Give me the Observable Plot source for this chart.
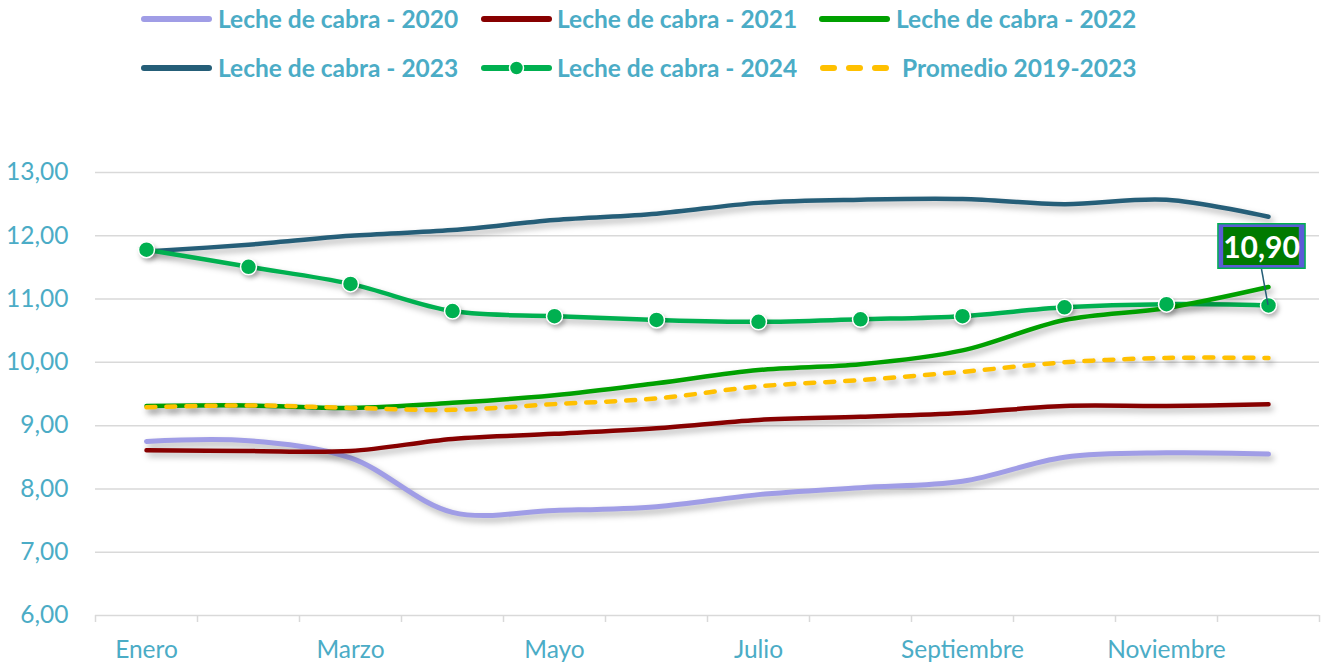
<!DOCTYPE html>
<html><head><meta charset="utf-8">
<script src="https://cdn.jsdelivr.net/npm/d3@7"></script>
<script src="https://cdn.jsdelivr.net/npm/@observablehq/plot@0.6"></script>
<style>
body{margin:0;background:#fff;font-family:Lato,sans-serif;}
#wrap{position:relative;width:1329px;height:663px;overflow:hidden;}
#legend{position:absolute;left:0;top:0;width:1329px;height:100px;}
.item{position:absolute;height:30px;}
.item svg{position:absolute;left:0;top:5px;}
.item span{position:absolute;top:0;line-height:30px;font-weight:700;color:#4BACC6;font-size:24.5px;white-space:nowrap;}
#chart{position:absolute;left:0;top:100px;}
</style></head><body>
<div id="wrap"><div id="legend"></div><div id="chart"></div></div>
<script>
const months = ["Enero","Febrero","Marzo","Abril","Mayo","Junio","Julio","Agosto","Septiembre","Octubre","Noviembre","Diciembre"];
const seriesNames = ["Leche de cabra - 2020","Leche de cabra - 2021","Leche de cabra - 2022","Leche de cabra - 2023","Leche de cabra - 2024","Promedio 2019-2023"];
const seriesColors = ["#A09DE6","#870000","#00A000","#255E78","#00B050","#FFC000"];
const v2020 = [8.75,8.76,8.49,7.63,7.66,7.72,7.91,8.02,8.12,8.50,8.57,8.55];
const v2021 = [8.61,8.60,8.60,8.79,8.87,8.96,9.09,9.14,9.20,9.31,9.31,9.34];
const v2022 = [9.31,9.32,9.28,9.36,9.48,9.67,9.88,9.97,10.19,10.67,10.86,11.19];
const v2023 = [11.75,11.86,12.00,12.09,12.25,12.35,12.52,12.57,12.58,12.50,12.57,12.30];
const v2024 = [11.78,11.51,11.24,10.81,10.73,10.67,10.64,10.68,10.73,10.87,10.92,10.90];
const promedio = [9.29,9.32,9.28,9.25,9.34,9.43,9.62,9.72,9.85,10.00,10.07,10.07];
const yTicks = [6,7,8,9,10,11,12,13];
const xLabelIdx = [0,2,4,6,8,10];
const lastLabel = "10,90";

const allValues = [v2020,v2021,v2022,v2023,v2024,promedio];
const rows = s => allValues[s].map((v,i)=>({i, v, s: seriesNames[s]}));
const fmt = d => d.toFixed(2).replace(".", ",");
const labelColor = "#4BACC6";
const edges = d3.range(-0.5, 12, 1);

// Legend
const legendPos = [
  {x:141, y:19, tx:218}, {x:481, y:19, tx:557}, {x:819, y:19, tx:896},
  {x:141, y:68, tx:218}, {x:481, y:68, tx:557}, {x:819, y:68, tx:902}
];
const legend = document.getElementById("legend");
seriesNames.forEach((name, k) => {
  const p = legendPos[k];
  const it = document.createElement("div");
  it.className = "item";
  it.style.left = p.x + "px";
  it.style.top = (p.y - 15) + "px";
  const c = seriesColors[k];
  let sw;
  if (k === 5) {
    sw = `<svg width="74" height="20"><line x1="4" x2="68" y1="10" y2="10" stroke="${c}" stroke-width="6" stroke-linecap="round" stroke-dasharray="11,15"/></svg>`;
  } else if (k === 4) {
    sw = `<svg width="74" height="20"><line x1="3" x2="68" y1="10" y2="10" stroke="${c}" stroke-width="6" stroke-linecap="round"/><circle cx="35.5" cy="10" r="7" fill="${c}" stroke="#fff" stroke-width="1.5"/></svg>`;
  } else {
    sw = `<svg width="74" height="20"><line x1="3" x2="68" y1="10" y2="10" stroke="${c}" stroke-width="6" stroke-linecap="round"/></svg>`;
  }
  it.innerHTML = sw + `<span style="left:${p.tx - p.x}px">${name}</span>`;
  legend.appendChild(it);
});

const curve = "catmull-rom";
const plot = Plot.plot({
  width: 1329, height: 563,
  marginTop: 72, marginBottom: 48, marginLeft: 95, marginRight: 10,
  x: {type: "linear", domain: [-0.5, 11.5]},
  y: {domain: [6, 13]},
  style: {fontFamily: "Lato, sans-serif", background: "#fff", overflow: "visible"},
  marks: [
    Plot.gridY(yTicks.slice(1), {stroke: "#d9d9d9", strokeOpacity: 1, strokeWidth: 1.5}),
    Plot.ruleY([6], {stroke: "#d9d9d9", strokeWidth: 1.5}),
    Plot.axisX({ticks: edges, tickSize: 7, tickFormat: () => "", stroke: "#d9d9d9", strokeWidth: 1.5, label: null}),
    Plot.axisX({ticks: xLabelIdx, tickSize: 0, tickPadding: 25, tickFormat: i => months[i], fill: labelColor, fontSize: 24.5, label: null}),
    Plot.axisY({ticks: yTicks, tickSize: 0, tickPadding: 27, tickFormat: fmt, fill: labelColor, fontSize: 24.5, label: null}),
    Plot.line(rows(0), {x: "i", y: "v", stroke: seriesColors[0], strokeWidth: 5, curve}),
    Plot.line(rows(1), {x: "i", y: "v", stroke: seriesColors[1], strokeWidth: 4.5, curve}),
    Plot.line(rows(3), {x: "i", y: "v", stroke: seriesColors[3], strokeWidth: 4.5, curve}),
    Plot.line(rows(4), {x: "i", y: "v", stroke: seriesColors[4], strokeWidth: 4.5, curve}),
    Plot.line(rows(2), {x: "i", y: "v", stroke: seriesColors[2], strokeWidth: 4.5, curve}),
    Plot.line(rows(5), {x: "i", y: "v", stroke: seriesColors[5], strokeWidth: 4.5, strokeDasharray: "9,11", strokeLinecap: "round", curve}),
    Plot.dot(rows(4), {x: "i", y: "v", r: 8, fill: seriesColors[4], stroke: "#fff", strokeWidth: 1.5}),
    Plot.text(rows(4).slice(-1), {x: "i", y: "v", text: () => lastLabel, dx: -7, dy: -57, fill: "#fff", fontWeight: "bold", fontSize: 30})
  ]
});
document.getElementById("chart").appendChild(plot);

// shadows
d3.select(plot).selectAll('g[aria-label="line"]').style("filter", "drop-shadow(3px 4px 3px rgba(0,0,0,0.3))");
d3.select(plot).selectAll('g[aria-label="dot"]').style("filter", "drop-shadow(2px 3px 2px rgba(0,0,0,0.25))");

// label box + connector (in root svg coordinates)
const tg = plot.querySelector('g[aria-label="text"]');
const t = tg.querySelector("text");
const svgR = plot.getBoundingClientRect();
const tr = t.getBoundingClientRect();
const bx = tr.left - svgR.left, by = tr.top - svgR.top, bw = tr.width, bh = tr.height;
const sx = plot.scale("x"), sy = plot.scale("y");
const px = sx.apply(11), py = sy.apply(v2024[11]);
const ns = "http://www.w3.org/2000/svg";
const mk = (tag, attrs) => { const e = document.createElementNS(ns, tag); for (const k in attrs) e.setAttribute(k, attrs[k]); return e; };
const ox = bx - 6, oy = by - 5, ow = bw + 12, oh = bh + 10;
const g = mk("g", {});
g.appendChild(mk("line", {x1: ox + ow/2, y1: oy + oh, x2: px, y2: py, stroke: "#255E78", "stroke-width": 1.5}));
g.appendChild(mk("rect", {x: ox, y: oy, width: ow, height: oh, fill: "#00B050"}));
g.appendChild(mk("rect", {x: ox + 1.5, y: oy + 1.5, width: ow - 3, height: oh - 3, fill: "#5B5BD6"}));
g.appendChild(mk("rect", {x: ox + 6, y: oy + 4, width: ow - 13, height: oh - 8, fill: "#007A00"}));
tg.parentNode.insertBefore(g, tg);
</script>
</body></html>
